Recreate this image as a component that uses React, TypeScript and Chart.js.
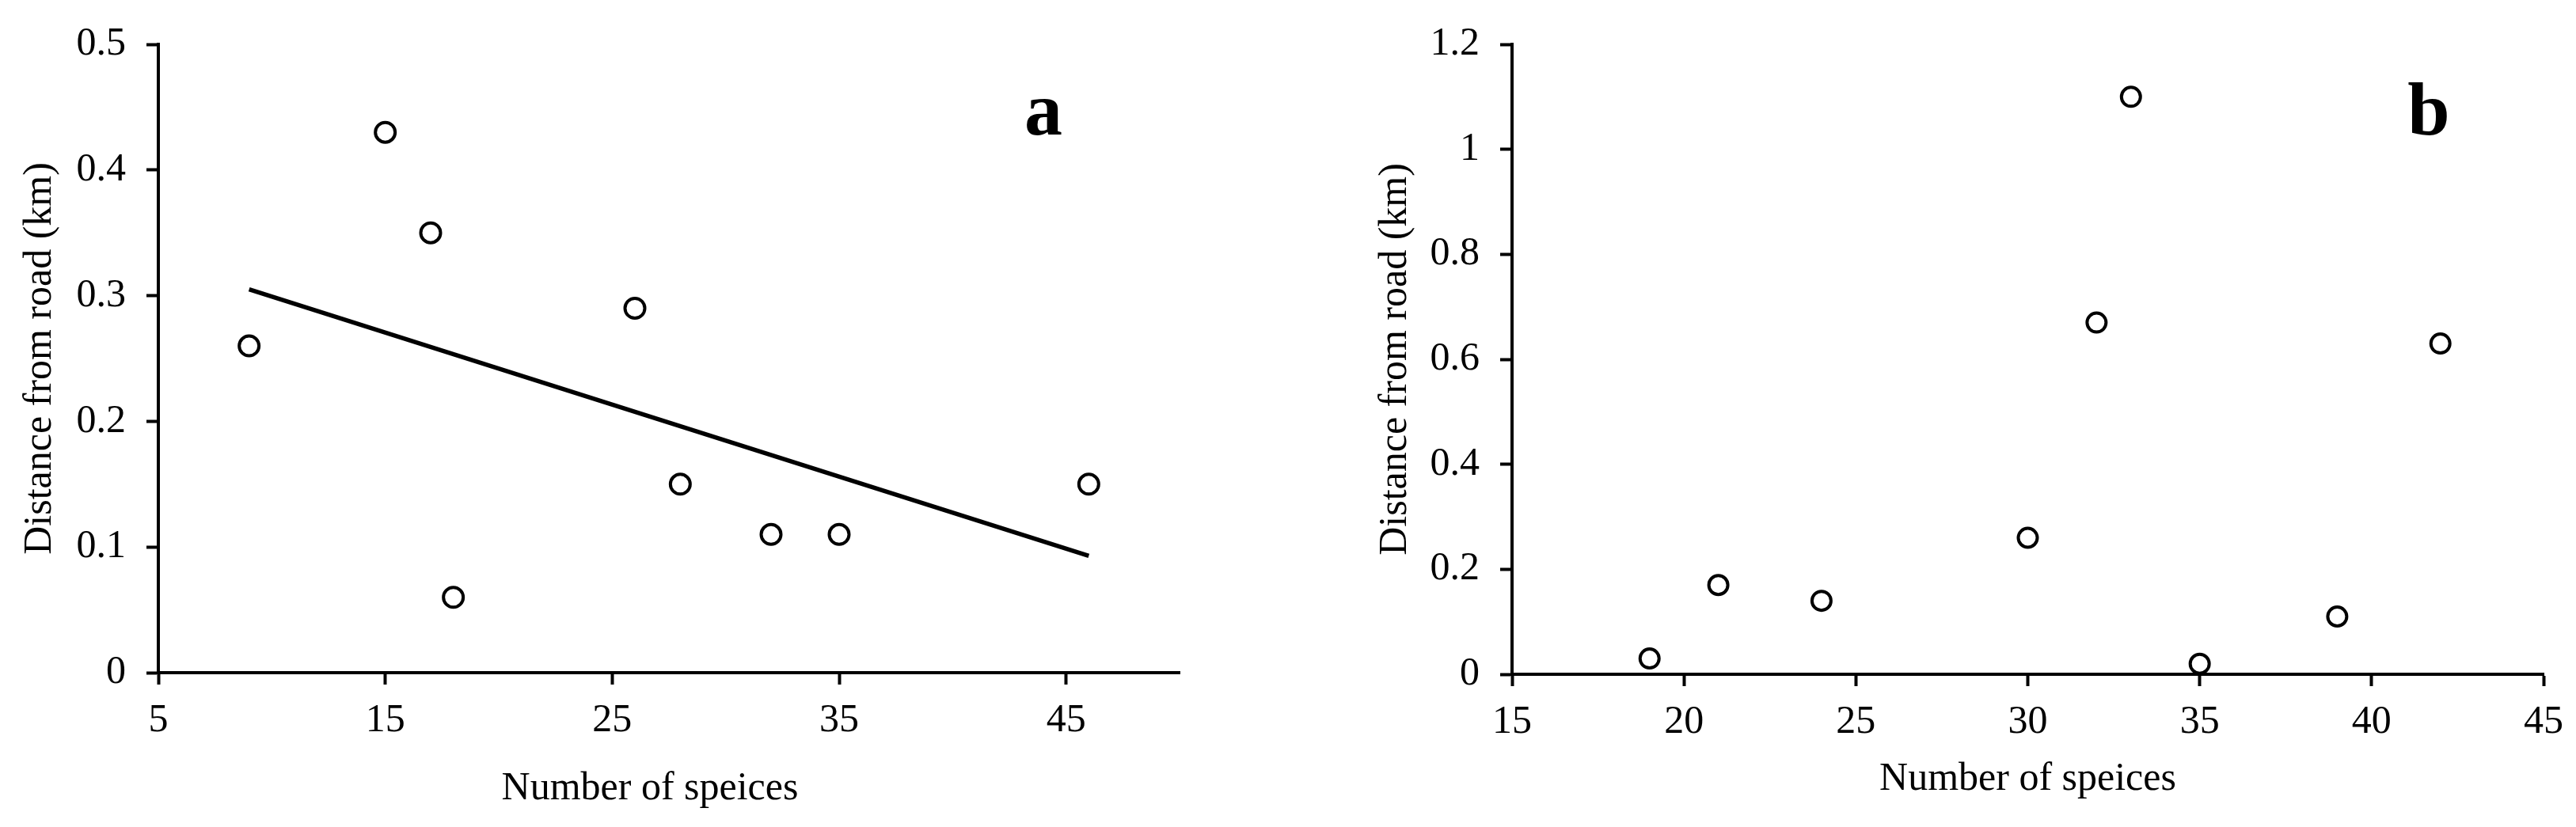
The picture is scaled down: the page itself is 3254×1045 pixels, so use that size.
import React, { useEffect, useRef } from "react";
import { Chart, registerables } from "chart.js";

Chart.register(...registerables);

// ---- Panel a data ----
const speciesA = [9, 15, 17, 18, 26, 28, 32, 35, 46];
const distanceA = [0.26, 0.43, 0.35, 0.06, 0.29, 0.15, 0.11, 0.11, 0.15];
const trendXA = [9, 46];
const trendYA = [0.305, 0.093];
const xTicksA = [5, 15, 25, 35, 45];
const yTicksA = [0, 0.1, 0.2, 0.3, 0.4, 0.5];

// ---- Panel b data ----
const speciesB = [19, 21, 24, 30, 32, 33, 35, 39, 42];
const distanceB = [0.03, 0.17, 0.14, 0.26, 0.67, 1.1, 0.02, 0.11, 0.63];
const xTicksB = [15, 20, 25, 30, 35, 40, 45];
const yTicksB = [0, 0.2, 0.4, 0.6, 0.8, 1, 1.2];

const xTitle = "Number of speices";
const yTitle = "Distance from road (km)";

const FONT = "'Times New Roman', 'Liberation Serif', serif";
const INK = "#000000";

type PanelCfg = {
  width: number;
  height: number;
  pad: { left: number; right: number; top: number; bottom: number };
  yAxisWidth: number;
  xAxisHeight: number;
  xMin: number;
  xMax: number;
  yMin: number;
  yMax: number;
  xTicks: number[];
  yTicks: number[];
  xs: number[];
  ys: number[];
  trendX?: number[];
  trendY?: number[];
  letter: string;
  letterPos: [number, number];
  yTitlePadTop: number;
  xTitlePadBottom: number;
  xTitleAt?: [number, number];
  pointRadius: number;
};

function makeConfig(p: PanelCfg): any {
  const datasets: any[] = [
    {
      type: "scatter",
      data: p.xs.map((x, i) => ({ x, y: p.ys[i] })),
      pointStyle: "circle",
      pointRadius: p.pointRadius,
      pointBorderWidth: 4,
      pointBorderColor: INK,
      pointBackgroundColor: "#ffffff",
      showLine: false,
      order: 1,
    },
  ];
  if (p.trendX && p.trendY) {
    const ty = p.trendY;
    datasets.push({
      type: "line",
      data: p.trendX.map((x, i) => ({ x, y: ty[i] })),
      borderColor: INK,
      borderWidth: 5.5,
      pointRadius: 0,
      fill: false,
      tension: 0,
      order: 2,
    });
  }
  const textPlugin = {
    id: "panelText",
    afterDraw(chart: any) {
      const ctx = chart.ctx;
      ctx.save();
      ctx.fillStyle = INK;
      ctx.textAlign = "center";
      ctx.font = `bold 96px ${FONT}`;
      ctx.textBaseline = "alphabetic";
      ctx.fillText(p.letter, p.letterPos[0], p.letterPos[1]);
      if (p.xTitleAt) {
        ctx.font = `50px ${FONT}`;
        ctx.textBaseline = "middle";
        ctx.fillText(xTitle, p.xTitleAt[0], p.xTitleAt[1]);
      }
      ctx.restore();
    },
  };
  const fmt = (v: number) => String(Math.round(v * 100) / 100);
  return {
    type: "scatter",
    data: { datasets },
    plugins: [textPlugin],
    options: {
      animation: false,
      responsive: false,
      devicePixelRatio: 1,
      layout: { padding: p.pad },
      plugins: { legend: { display: false }, tooltip: { enabled: false } },
      scales: {
        x: {
          type: "linear",
          position: "bottom",
          min: p.xMin,
          max: p.xMax,
          afterBuildTicks: (axis: any) => {
            axis.ticks = p.xTicks.map((v) => ({ value: v }));
          },
          afterFit: (axis: any) => {
            axis.height = p.xAxisHeight;
          },
          grid: {
            display: true,
            drawOnChartArea: false,
            drawTicks: true,
            tickLength: 15,
            tickWidth: 4,
            tickColor: INK,
          },
          border: { display: true, color: INK, width: 4 },
          ticks: {
            autoSkip: false,
            maxRotation: 0,
            padding: 16,
            color: INK,
            font: { family: FONT, size: 50 },
            callback: (v: any) => fmt(Number(v)),
          },
          title: {
            display: !p.xTitleAt,
            text: xTitle,
            color: INK,
            font: { family: FONT, size: 50 },
            padding: { top: 0, bottom: p.xTitlePadBottom },
          },
        },
        y: {
          type: "linear",
          position: "left",
          min: p.yMin,
          max: p.yMax,
          afterBuildTicks: (axis: any) => {
            axis.ticks = p.yTicks.map((v) => ({ value: v }));
          },
          afterFit: (axis: any) => {
            axis.width = p.yAxisWidth;
          },
          grid: {
            display: true,
            drawOnChartArea: false,
            drawTicks: true,
            tickLength: 15,
            tickWidth: 4,
            tickColor: INK,
          },
          border: { display: true, color: INK, width: 4 },
          ticks: {
            autoSkip: false,
            padding: 26,
            color: INK,
            font: { family: FONT, size: 50 },
            callback: (v: any) => fmt(Number(v)),
          },
          title: {
            display: true,
            text: yTitle,
            color: INK,
            font: { family: FONT, size: 50 },
            padding: { top: p.yTitlePadTop, bottom: 0 },
          },
        },
      },
    },
  };
}

const panelA: PanelCfg = {
  width: 1600,
  height: 1045,
  pad: { left: 0, right: 110, top: 33, bottom: 0 },
  yAxisWidth: 200,
  xAxisHeight: 195,
  xMin: 5,
  xMax: 50,
  yMin: 0,
  yMax: 0.5,
  xTicks: xTicksA,
  yTicks: yTicksA,
  xs: speciesA,
  ys: distanceA,
  trendX: trendXA,
  trendY: trendYA,
  letter: "a",
  letterPos: [1318, 170],
  yTitlePadTop: 21,
  xTitlePadBottom: 18,
  xTitleAt: [821, 997],
  pointRadius: 12.5,
};

const panelB: PanelCfg = {
  width: 1654,
  height: 1045,
  pad: { left: 100, right: 33, top: 41, bottom: 0 },
  yAxisWidth: 210,
  xAxisHeight: 193,
  xMin: 15,
  xMax: 45,
  yMin: 0,
  yMax: 1.2,
  xTicks: xTicksB,
  yTicks: yTicksB,
  xs: speciesB,
  ys: distanceB,
  letter: "b",
  letterPos: [1468, 170],
  yTitlePadTop: 33,
  xTitlePadBottom: 30,
  pointRadius: 12,
};

function Panel({ cfg, left }: { cfg: PanelCfg; left: number }) {
  const ref = useRef<HTMLCanvasElement | null>(null);
  useEffect(() => {
    if (!ref.current) return;
    const chart = new Chart(ref.current, makeConfig(cfg));
    return () => chart.destroy();
  }, [cfg]);
  return (
    <canvas
      ref={ref}
      width={cfg.width}
      height={cfg.height}
      style={{
        position: "absolute",
        left,
        top: 0,
        width: cfg.width,
        height: cfg.height,
        display: "block",
      }}
    />
  );
}

export default function App() {
  return (
    <div
      style={{
        position: "absolute",
        left: 0,
        top: 0,
        width: 3254,
        height: 1045,
        background: "#ffffff",
        overflow: "hidden",
      }}
    >
      <Panel cfg={panelA} left={0} />
      <Panel cfg={panelB} left={1600} />
    </div>
  );
}
